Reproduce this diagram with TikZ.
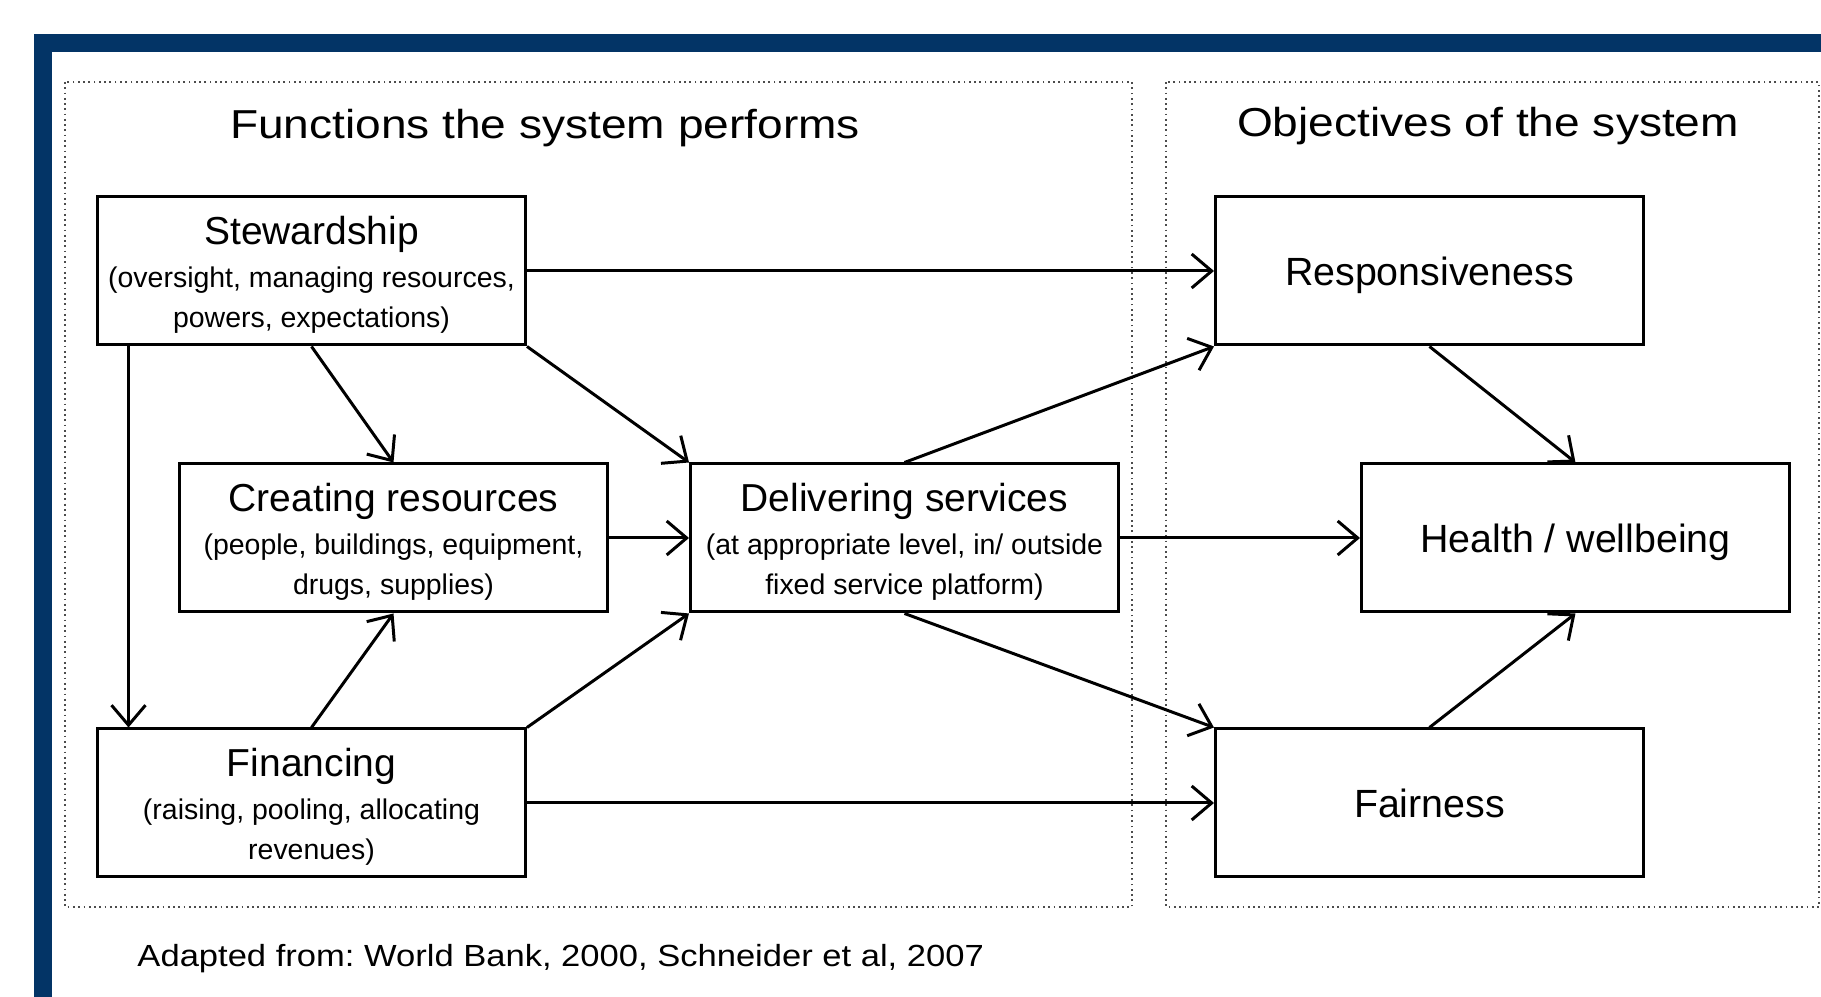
\documentclass[tikz,border=0pt]{standalone}
\usepackage{fontspec}
\setmainfont{Liberation Sans}
\newfontfamily\headfont[FakeStretch=1.14]{Liberation Sans}
\newfontfamily\notefont[FakeStretch=1.13]{Liberation Sans}
\usepackage{xcolor}
\usepackage{tikz}
\usetikzlibrary{positioning, arrows.meta}
\definecolor{framenavy}{HTML}{033466}
\newcommand{\boxtitle}[1]{{\fontsize{11.1pt}{12pt}\selectfont\rule{0pt}{10.5pt}#1}}
\frenchspacing

\begin{document}
\begin{tikzpicture}[
  line width=0.85pt,
  fn/.style={draw, minimum width=4.28cm, minimum height=1.48cm, align=center, inner sep=0pt, font=\fontsize{8.1pt}{11.66pt}\selectfont},
  obj/.style={fn, text height=8pt, text depth=0pt, font=\fontsize{11.2pt}{12pt}\selectfont},
  >={Straight Barb[length=2mm, width=3.4mm]}
]
\useasboundingbox (0,0) rectangle (18.21,-9.97);
\fill[white] (0,0) rectangle (18.21,-9.97);
\draw[framenavy, line width=0.18cm] (18.3,-0.43) -- (0.43,-0.43) -- (0.43,-10.1);
\draw[densely dotted, line width=0.5pt, black!70] (0.65,-0.82) rectangle (11.32,-9.07);
\draw[densely dotted, line width=0.5pt, black!70] (11.66,-0.82) rectangle (18.19,-9.07);

\node[anchor=base, font=\headfont\fontsize{11.5pt}{13pt}\selectfont] (fnhead) at (5.45,-1.39) {Functions the system performs};
\node[anchor=base, font=\headfont\fontsize{11.5pt}{13pt}\selectfont] (objhead) at (14.88,-1.37) {Objectives of the system};

\node[fn] (stew) at (3.115,-2.71) {\boxtitle{Stewardship}\\[0.3pt](oversight, managing resources,\\powers, expectations)};
\node[fn] (fin) [below=3.81cm of stew] {\boxtitle{Financing}\\[0.3pt](raising, pooling, allocating\\revenues)};
\node[fn] (creat) [below=1.16cm of stew, xshift=0.82cm] {\boxtitle{Creating resources}\\[0.3pt](people, buildings, equipment,\\drugs, supplies)};
\node[fn] (deliv) [right=0.80cm of creat] {\boxtitle{Delivering services}\\[0.3pt](at appropriate level, in/ outside\\fixed service platform)};
\node[obj] (resp) [right=6.87cm of stew] {Responsiveness};
\node[obj] (health) [right=2.40cm of deliv] {Health / wellbeing};
\node[obj] (fair) [right=6.87cm of fin] {Fairness};

\node[anchor=base west, inner sep=0pt, font=\notefont\fontsize{8.7pt}{10pt}\selectfont] (src) at (1.36,-9.67) {Adapted from: World Bank, 2000, Schneider et al, 2007};

\path[->] (stew) edge (resp);
\path[->] (stew.south) edge (creat.north);
\path[->] (stew.south east) edge (deliv.north west);
\path[->] ([xshift=0.325cm]stew.south west) edge ([xshift=0.325cm]fin.north west);
\path[->] (creat) edge (deliv);
\path[->] (fin.north) edge (creat.south);
\path[->] (fin.north east) edge (deliv.south west);
\path[->] (fin) edge (fair);
\path[->] (deliv.north) edge (resp.south west);
\path[->] (deliv) edge (health);
\path[->] (deliv.south) edge (fair.north west);
\path[->] (resp.south) edge (health.north);
\path[->] (fair.north) edge (health.south);
\end{tikzpicture}
\end{document}
